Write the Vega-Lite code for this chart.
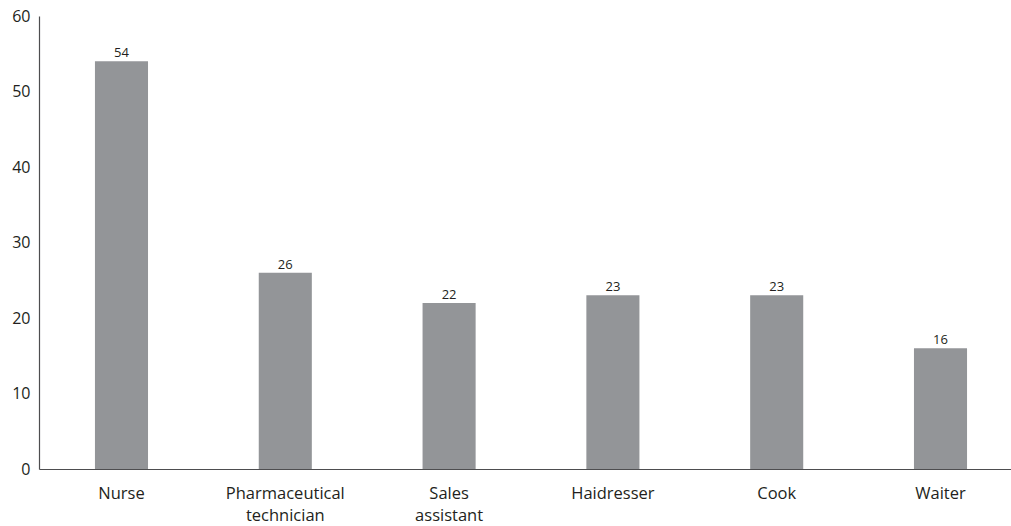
{
  "$schema": "https://vega.github.io/schema/vega-lite/v6.json",
  "autosize": "none",
  "width": 972,
  "height": 453,
  "padding": {"left": 39, "top": 16, "right": 0, "bottom": 57},
  "background": "white",
  "config": {"view": {"stroke": null}, "font": "Open Sans"},
  "data": {"values": [
    {"job": "Nurse", "value": 54},
    {"job": "Pharmaceutical technician", "value": 26},
    {"job": "Sales assistant", "value": 22},
    {"job": "Haidresser", "value": 23},
    {"job": "Cook", "value": 23},
    {"job": "Waiter", "value": 16}
  ]},
  "encoding": {
    "x": {"field": "job", "type": "nominal", "sort": null,
      "scale": {"paddingInner": 0.676, "paddingOuter": 0.305, "align": 0.56},
      "axis": {"title": null, "labelAngle": 0, "ticks": false, "tickSize": 0, "labelPadding": 16,
        "labelExpr": "split(datum.label, ' ')", "labelLineHeight": 22,
        "labelFontSize": 16.5, "labelColor": "#231f20", "labelFont": "Open Sans",
        "domainColor": "#4d4d4f", "domainWidth": 1.2, "labelBaseline": "top"}},
    "y": {"field": "value", "type": "quantitative",
      "scale": {"domain": [0, 60], "nice": false},
      "axis": {"title": null, "values": [0, 10, 20, 30, 40, 50, 60], "grid": false, "ticks": false, "tickSize": 0,
        "labelPadding": 9, "labelFontSize": 16, "labelColor": "#231f20", "labelFont": "Open Sans",
        "domainColor": "#4d4d4f", "domainWidth": 1.2}}
  },
  "layer": [
    {"mark": {"type": "bar", "color": "#939598"}},
    {"mark": {"type": "text", "baseline": "alphabetic", "dy": -4, "fontSize": 13, "color": "#231f20", "font": "Open Sans"},
      "encoding": {"text": {"field": "value", "type": "quantitative"}}}
  ]
}
